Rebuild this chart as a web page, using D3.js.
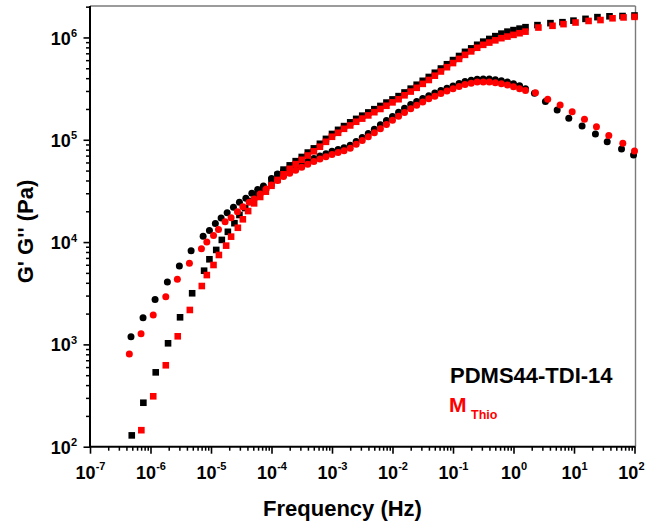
<!DOCTYPE html>
<meta charset="utf-8">
<style>
body { margin: 0; background: #fff; }
text { font-family: "Liberation Sans", Arial, sans-serif; font-weight: bold; }
</style>
<svg></svg>
<script src="https://d3js.org/d3.v7.min.js"></script>
<script>

// frequency sweep shared by the dense middle part of every series (Hz)
var freqMid = [1.00e-4, 1.26e-4, 1.58e-4, 2.00e-4, 2.51e-4, 3.16e-4, 3.98e-4, 5.01e-4, 6.31e-4, 7.94e-4,
  1.00e-3, 1.26e-3, 1.58e-3, 2.00e-3, 2.51e-3, 3.16e-3, 3.98e-3, 5.01e-3, 6.31e-3, 7.94e-3,
  1.00e-2, 1.26e-2, 1.58e-2, 2.00e-2, 2.51e-2, 3.16e-2, 3.98e-2, 5.01e-2, 6.31e-2, 7.94e-2,
  0.100, 0.126, 0.158, 0.200, 0.251, 0.316, 0.398, 0.501, 0.631, 0.794, 1.00, 1.26, 1.58];

// PDMS44-TDI-14 (black) : G' squares, G'' circles   [Hz, Pa]
var blackStorageLow = [[4.90e-7,129],[7.62e-7,269],[1.22e-6,533],[1.95e-6,1025],[3.08e-6,1840],[4.88e-6,3160],
  [7.69e-6,5250],[9.42e-6,6790],[1.22e-5,8380],[1.51e-5,10500],[1.90e-5,12600],[2.44e-5,15300],[2.95e-5,18400],
  [3.67e-5,21500],[4.61e-5,25200],[5.79e-5,28900],[7.28e-5,33000]];
var blackStorageMid = [3.98e4, 4.53e4, 5.11e4, 5.62e4, 6.18e4, 6.79e4, 7.50e4, 8.24e4, 9.14e4, 1.02e5,
  1.14e5, 1.25e5, 1.36e5, 1.48e5, 1.60e5, 1.72e5, 1.85e5, 1.99e5, 2.14e5, 2.31e5,
  2.48e5, 2.67e5, 2.90e5, 3.16e5, 3.45e5, 3.77e5, 4.11e5, 4.52e5, 4.97e5, 5.47e5,
  6.01e5, 6.59e5, 7.23e5, 7.82e5, 8.48e5, 9.10e5, 9.67e5, 1.03e6, 1.09e6, 1.14e6, 1.18e6, 1.22e6, 1.26e6];
var blackStorageHigh = [[2.49,1.32e6],[4.08,1.38e6],[6.45,1.41e6],[9.80,1.46e6],[15.5,1.52e6],[24.4,1.58e6],
  [38.6,1.61e6],[63.4,1.62e6],[100,1.64e6]];

var blackLossLow = [[4.76e-7,1190],[7.53e-7,1820],[1.19e-6,2750],[1.90e-6,4070],[3.00e-6,5840],[4.69e-6,8240],
  [7.41e-6,11400],[9.42e-6,13000],[1.18e-5,15200],[1.47e-5,17200],[1.85e-5,19400],[2.35e-5,21900],[2.95e-5,24500],
  [3.77e-5,26800],[4.73e-5,30000],[5.90e-5,32700],[7.36e-5,35300]];
var blackLossMid = [4.19e4, 4.62e4, 4.98e4, 5.27e4, 5.50e4, 5.76e4, 6.15e4, 6.55e4, 6.95e4, 7.32e4,
  7.71e4, 8.02e4, 8.34e4, 8.86e4, 9.64e4, 1.05e5, 1.15e5, 1.27e5, 1.40e5, 1.54e5,
  1.69e5, 1.86e5, 2.03e5, 2.21e5, 2.37e5, 2.53e5, 2.70e5, 2.86e5, 3.03e5, 3.19e5,
  3.36e5, 3.54e5, 3.71e5, 3.81e5, 3.91e5, 3.93e5, 3.93e5, 3.86e5, 3.78e5, 3.66e5, 3.52e5, 3.37e5, 3.16e5];
var blackLossHigh = [[2.22,2.85e5],[3.37,2.36e5],[5.27,1.95e5],[8.20,1.62e5],[13.6,1.36e5],[22.6,1.14e5],
  [35.4,9.58e4],[61.0,8.13e4],[96.4,7.10e4]];

// M_Thio (red)
var redStorageLow = [[7.06e-7,145],[1.11e-6,311],[1.79e-6,625],[2.82e-6,1200],[4.47e-6,2170],[7.05e-6,3720],
  [8.53e-6,4760],[1.10e-5,5970],[1.35e-5,7480],[1.78e-5,9230],[2.15e-5,11300],[2.78e-5,13800],[3.36e-5,16700],
  [4.11e-5,20100],[5.16e-5,23900],[6.50e-5,27600],[8.07e-5,31100]];
var redStorageMid = [3.55e4, 4.05e4, 4.60e4, 5.20e4, 5.78e4, 6.37e4, 7.02e4, 7.71e4, 8.55e4, 9.55e4,
  1.07e5, 1.17e5, 1.28e5, 1.38e5, 1.50e5, 1.61e5, 1.73e5, 1.86e5, 2.00e5, 2.15e5,
  2.32e5, 2.49e5, 2.72e5, 2.96e5, 3.22e5, 3.52e5, 3.84e5, 4.23e5, 4.65e5, 5.12e5,
  5.62e5, 6.17e5, 6.76e5, 7.31e5, 7.93e5, 8.47e5, 8.91e5, 9.37e5, 9.84e5, 1.02e6, 1.06e6, 1.10e6, 1.14e6];
var redStorageHigh = [[2.58,1.25e6],[4.41,1.30e6],[6.70,1.35e6],[10.6,1.40e6],[17.4,1.45e6],[27.4,1.48e6],
  [43.3,1.54e6],[65.9,1.57e6],[100,1.59e6]];

var redLossLow = [[4.47e-7,805],[6.98e-7,1270],[1.11e-6,1940],[1.79e-6,2920],[2.78e-6,4330],[4.40e-6,6210],
  [6.95e-6,8630],[8.53e-6,10000],[1.10e-5,11600],[1.33e-5,13300],[1.71e-5,15800],[2.15e-5,17300],[2.74e-5,19800],
  [3.36e-5,22200],[4.28e-5,24500],[5.16e-5,26400],[6.50e-5,29500],[8.17e-5,33000]];
var redLossMid = [3.61e4, 4.00e4, 4.38e4, 4.72e4, 5.04e4, 5.38e4, 5.75e4, 6.12e4, 6.49e4, 6.84e4,
  7.18e4, 7.50e4, 7.80e4, 8.28e4, 9.02e4, 9.82e4, 1.07e5, 1.17e5, 1.28e5, 1.41e5,
  1.55e5, 1.70e5, 1.85e5, 2.01e5, 2.18e5, 2.34e5, 2.52e5, 2.67e5, 2.83e5, 2.99e5,
  3.15e5, 3.31e5, 3.47e5, 3.56e5, 3.66e5, 3.67e5, 3.67e5, 3.61e5, 3.52e5, 3.43e5, 3.29e5, 3.15e5, 3.03e5];
var redLossHigh = [[2.31,2.88e5],[3.68,2.49e5],[5.90,2.19e5],[9.33,1.88e5],[14.9,1.59e5],[23.5,1.34e5],
  [37.6,1.10e5],[64.1,9.25e4],[100,7.76e4]];

var xDecades = [1e-7, 1e-6, 1e-5, 1e-4, 1e-3, 1e-2, 1e-1, 1e0, 1e1, 1e2];
var xExponents = ["-7", "-6", "-5", "-4", "-3", "-2", "-1", "0", "1", "2"];
var yDecades = [1e2, 1e3, 1e4, 1e5, 1e6];
var yExponents = ["2", "3", "4", "5", "6"];

var svg = d3.select("svg").attr("width", 646).attr("height", 524);

var x = d3.scaleLog().domain([1e-7, 1e2]).range([90, 634.5]);
var y = d3.scaleLog().domain([1e2, 2.03e6]).range([446.7, 6]);

function join(low, mid, high) {
  var out = low.slice();
  freqMid.forEach(function(f, i) { out.push([f, mid[i]]); });
  return out.concat(high);
}

// frame (top/right in grey)
svg.append("line").attr("x1", 90).attr("x2", 635.5).attr("y1", 6).attr("y2", 6)
  .attr("stroke", "#7a7a7a").attr("stroke-width", 1.4);
svg.append("line").attr("x1", 635.5).attr("x2", 635.5).attr("y1", 6).attr("y2", 446.7)
  .attr("stroke", "#7a7a7a").attr("stroke-width", 1.4);

// minor ticks
var xMinor = x.ticks().filter(function(d) { return xDecades.indexOf(d) < 0; });
var yMinor = y.ticks().filter(function(d) { return yDecades.indexOf(d) < 0; });

svg.append("g").attr("transform", "translate(0,446.7)")
  .call(d3.axisBottom(x).tickValues(xMinor).tickSize(4).tickSizeOuter(0).tickFormat(""))
  .call(function(g) { g.select(".domain").remove(); })
  .selectAll("line").attr("stroke-width", 1.5);
svg.append("g").attr("transform", "translate(90,0)")
  .call(d3.axisLeft(y).tickValues(yMinor).tickSize(4).tickSizeOuter(0).tickFormat(""))
  .call(function(g) { g.select(".domain").remove(); })
  .selectAll("line").attr("stroke-width", 1.5);

// major ticks + labels
var xAxis = svg.append("g").attr("transform", "translate(0,446.7)")
  .call(d3.axisBottom(x).tickValues(xDecades).tickSize(7).tickSizeOuter(0).tickFormat(""));
xAxis.select(".domain").attr("stroke-width", 2).attr("d", "M90,0H635.5");
xAxis.selectAll("line").attr("stroke-width", 1.6);
xAxis.selectAll(".tick").each(function(d, i) {
  var last = i === xDecades.length - 1;
  var t = d3.select(this).append("text").attr("fill", "#000").attr("y", 32.6)
    .attr("x", last ? 9.5 : 0)
    .attr("text-anchor", last ? "end" : "middle").style("font-size", "18px");
  t.append("tspan").text("10");
  t.append("tspan").attr("dy", -9).style("font-size", "11px").text(xExponents[i]);
});

var yAxis = svg.append("g").attr("transform", "translate(90,0)")
  .call(d3.axisLeft(y).tickValues(yDecades).tickSize(6.5).tickSizeOuter(0).tickFormat(""));
yAxis.select(".domain").attr("stroke-width", 2).attr("d", "M0,6V447.7");
yAxis.selectAll("line").attr("stroke-width", 1.6);
yAxis.selectAll(".tick").each(function(d, i) {
  var t = d3.select(this).append("text").attr("fill", "#000").attr("x", -13).attr("y", 6.6)
    .attr("text-anchor", "end").style("font-size", "18px");
  t.append("tspan").text("10");
  t.append("tspan").attr("dy", -7.5).style("font-size", "11px").text(yExponents[i]);
});

// axis titles
svg.append("text").attr("x", 342.5).attr("y", 516).attr("text-anchor", "middle")
  .style("font-size", "22px").text("Frequency (Hz)");
svg.append("text").attr("transform", "translate(32.5,231.5) rotate(-90)").attr("text-anchor", "middle")
  .style("font-size", "22px").text("G' G'' (Pa)");

// data
var series = [
  { data: join(blackStorageLow, blackStorageMid, blackStorageHigh), color: "#000", shape: "square" },
  { data: join(blackLossLow, blackLossMid, blackLossHigh), color: "#000", shape: "circle" },
  { data: join(redStorageLow, redStorageMid, redStorageHigh), color: "#ff0000", shape: "square" },
  { data: join(redLossLow, redLossMid, redLossHigh), color: "#ff0000", shape: "circle" }
];

series.forEach(function(s) {
  var g = svg.append("g").attr("fill", s.color);
  if (s.shape === "square") {
    g.selectAll("rect").data(s.data).enter().append("rect")
      .attr("x", function(d) { return x(d[0]) - 3.3; })
      .attr("y", function(d) { return y(d[1]) - 3.3; })
      .attr("width", 6.6).attr("height", 6.6);
  } else {
    g.selectAll("circle").data(s.data).enter().append("circle")
      .attr("cx", function(d) { return x(d[0]); })
      .attr("cy", function(d) { return y(d[1]); })
      .attr("r", 3.5);
  }
});

// legend text
svg.append("text").attr("x", 450).attr("y", 383).style("font-size", "22px").attr("fill", "#000")
  .text("PDMS44-TDI-14");
var m = svg.append("text").attr("x", 449).attr("y", 411.7).attr("fill", "#ff0000").style("font-size", "21px");
m.append("tspan").text("M");
m.append("tspan").attr("x", 471).attr("dy", 7.6).style("font-size", "12.5px").text("Thio");

</script>
